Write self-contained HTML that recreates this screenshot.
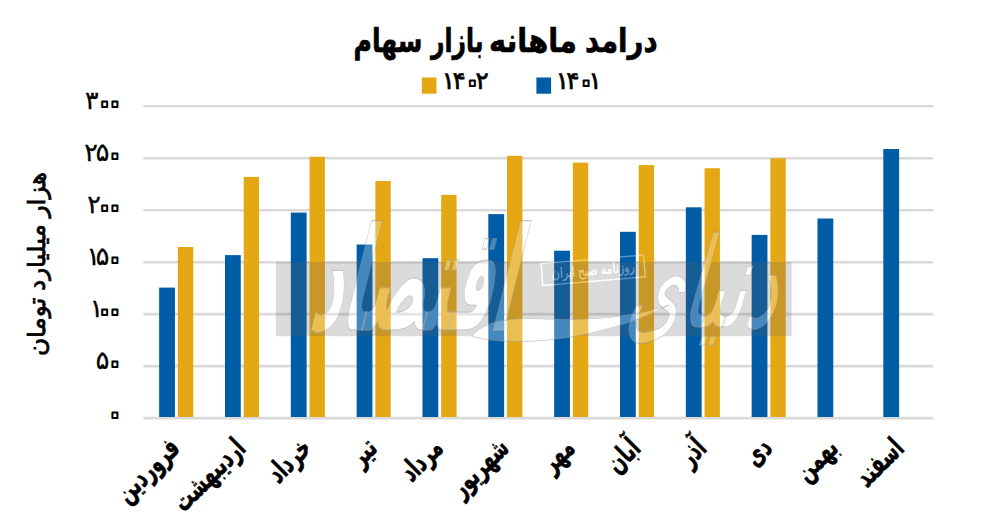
<!DOCTYPE html>
<html lang="fa"><head><meta charset="utf-8"><title>درامد ماهانه بازار سهام</title>
<style>
html,body{margin:0;padding:0;background:#fff;}
body{width:1000px;height:516px;overflow:hidden;}
svg{display:block;}
text{font-family:"Liberation Sans","DejaVu Sans",sans-serif;font-weight:bold;fill:#000;}
.g{stroke:#dadada;stroke-width:2.6;}
.d,.d text{font-weight:normal;stroke:#000;stroke-width:0.35;}
.d.l{stroke-width:0.7;}
#xlabs text{stroke:#000;stroke-width:0.35;}
#title text{stroke:#000;stroke-width:0.8;}
.d .z,.d.l .z{fill:none;stroke:#000;stroke-width:2;stroke-linejoin:round;}
.b{fill:#005ca5;}.y{fill:#e5a815;}
</style></head><body>
<svg width="1000" height="516" viewBox="0 0 1000 516">
<rect width="1000" height="516" fill="#fff"/>
<g class="g">
<line x1="143.25" y1="106.30" x2="933.25" y2="106.30"/>
<line x1="143.25" y1="158.27" x2="933.25" y2="158.27"/>
<line x1="143.25" y1="210.23" x2="933.25" y2="210.23"/>
<line x1="143.25" y1="262.20" x2="933.25" y2="262.20"/>
<line x1="143.25" y1="314.17" x2="933.25" y2="314.17"/>
<line x1="143.25" y1="366.13" x2="933.25" y2="366.13"/>
<line x1="143.25" y1="418.10" x2="933.25" y2="418.10"/>
</g>
<g>
<rect class="b" x="159.15" y="287.60" width="15.8" height="129.40"/>
<rect class="y" x="177.85" y="247.00" width="15.4" height="170.00"/>
<rect class="b" x="224.98" y="255.10" width="15.8" height="161.90"/>
<rect class="y" x="243.68" y="176.90" width="15.4" height="240.10"/>
<rect class="b" x="290.82" y="212.60" width="15.8" height="204.40"/>
<rect class="y" x="309.52" y="156.70" width="15.4" height="260.30"/>
<rect class="b" x="356.65" y="244.50" width="15.8" height="172.50"/>
<rect class="y" x="375.35" y="181.00" width="15.4" height="236.00"/>
<rect class="b" x="422.48" y="258.20" width="15.8" height="158.80"/>
<rect class="y" x="441.18" y="194.90" width="15.4" height="222.10"/>
<rect class="b" x="488.32" y="214.10" width="15.8" height="202.90"/>
<rect class="y" x="507.02" y="155.80" width="15.4" height="261.20"/>
<rect class="b" x="554.15" y="250.70" width="15.8" height="166.30"/>
<rect class="y" x="572.85" y="162.60" width="15.4" height="254.40"/>
<rect class="b" x="619.98" y="231.80" width="15.8" height="185.20"/>
<rect class="y" x="638.68" y="165.10" width="15.4" height="251.90"/>
<rect class="b" x="685.82" y="207.30" width="15.8" height="209.70"/>
<rect class="y" x="704.52" y="168.20" width="15.4" height="248.80"/>
<rect class="b" x="751.65" y="234.90" width="15.8" height="182.10"/>
<rect class="y" x="770.35" y="158.30" width="15.4" height="258.70"/>
<rect class="b" x="817.48" y="218.50" width="15.8" height="198.50"/>
<rect class="b" x="883.32" y="149.00" width="15.8" height="268.00"/>
</g>
<g id="wm">
<mask id="wmk" maskUnits="userSpaceOnUse" x="270" y="255" width="530" height="90">
<rect x="270" y="255" width="530" height="90" fill="#fff"/>
<g fill="#000" stroke="#000" stroke-width="0.9">
<text transform="translate(509 330) skewX(-14) scale(0.64 1.5)" text-anchor="end" font-size="96" style="font-weight:bold;fill:inherit">اقتصاد</text>
<text transform="translate(774 327) skewX(-16) scale(0.74 1.3)" text-anchor="end" font-size="96" style="font-weight:normal;fill:inherit">دنیای</text>
<path d="M472 336 C500 346 590 346 669 305 C640 316 590 321 545 319 C510 317 484 321 472 336 Z"/>
</g>
<g fill="#000" stroke="#000">
<g transform="translate(593.2 270.3) rotate(-4.8)">
<rect x="-51.4" y="-11" width="102.8" height="22" fill="none" stroke-width="1.3" style="stroke:inherit"/>
<text transform="translate(0 4.6) scale(0.88 1.12)" text-anchor="middle" font-size="12.5" style="font-weight:normal;fill:inherit;stroke:inherit;stroke-width:0.3">روزنامه صبح ایران</text>
</g>
</g>
</mask>
<rect x="275.8" y="262" width="515.8" height="74.2" fill="rgba(100,100,100,0.23)" mask="url(#wmk)"/>
<g fill="rgba(255,255,255,0.27)" stroke="rgba(150,150,150,0.5)" stroke-width="0.9">
<text transform="translate(509 330) skewX(-14) scale(0.64 1.5)" text-anchor="end" font-size="96" style="font-weight:bold;fill:inherit">اقتصاد</text>
<text transform="translate(774 327) skewX(-16) scale(0.74 1.3)" text-anchor="end" font-size="96" style="font-weight:normal;fill:inherit">دنیای</text>
<path d="M472 336 C500 346 590 346 669 305 C640 316 590 321 545 319 C510 317 484 321 472 336 Z"/>
</g>
<g fill="rgba(255,255,255,0.35)" stroke="rgba(255,255,255,0.35)">
<g transform="translate(593.2 270.3) rotate(-4.8)">
<rect x="-51.4" y="-11" width="102.8" height="22" fill="none" stroke-width="1.3" style="stroke:inherit"/>
<text transform="translate(0 4.6) scale(0.88 1.12)" text-anchor="middle" font-size="12.5" style="font-weight:normal;fill:inherit;stroke:inherit;stroke-width:0.3">روزنامه صبح ایران</text>
</g>
</g>
</g>
<g id="title" font-size="38">
<text transform="translate(585.00 52) scale(0.7268 0.875)">درامد</text>
<text transform="translate(489.00 52) scale(0.7593 0.875)">ماهانه</text>
<text transform="translate(431.00 52) scale(0.6161 0.875)">بازار</text>
<text transform="translate(353.50 52) scale(0.6601 0.875)">سهام</text>
</g>
<rect class="y" x="421.8" y="77.5" width="14.7" height="16.2"/>
<text id="leg2" class="d l" transform="translate(487.2 88.5)" text-anchor="start" font-size="24.6"><tspan x="-45.48" y="0">۱</tspan><tspan x="-34.82" y="0">۴</tspan><tspan class="z" x="-27.25" y="7.23" font-size="46">۰</tspan><tspan x="-11.64" y="0">۲</tspan></text>
<rect class="b" x="536.4" y="77.5" width="14.7" height="16.2"/>
<text id="leg1" class="d l" transform="translate(597.6 88.5)" text-anchor="start" font-size="24.6"><tspan x="-41.98" y="0">۱</tspan><tspan x="-31.31" y="0">۴</tspan><tspan class="z" x="-23.75" y="7.23" font-size="46">۰</tspan><tspan x="-9.23" y="0">۱</tspan></text>
<g id="ylabs" class="d" font-size="25.2" text-anchor="start">
<text transform="translate(119.5 108.70)"><tspan x="-34.43" y="0">۳</tspan><tspan class="z" x="-27.20" y="8.23" font-size="46">۰</tspan><tspan class="z" x="-16.90" y="8.23" font-size="46">۰</tspan></text>
<text transform="translate(119.5 160.67)"><tspan x="-35.35" y="0">۲</tspan><tspan x="-23.77" y="0">۵</tspan><tspan class="z" x="-16.90" y="8.23" font-size="46">۰</tspan></text>
<text transform="translate(119.5 212.63)"><tspan x="-32.25" y="0">۲</tspan><tspan class="z" x="-27.20" y="8.23" font-size="46">۰</tspan><tspan class="z" x="-16.90" y="8.23" font-size="46">۰</tspan></text>
<text transform="translate(119.5 264.60)"><tspan x="-32.97" y="0">۱</tspan><tspan x="-23.77" y="0">۵</tspan><tspan class="z" x="-16.90" y="8.23" font-size="46">۰</tspan></text>
<text transform="translate(119.5 316.57)"><tspan x="-29.87" y="0">۱</tspan><tspan class="z" x="-27.20" y="8.23" font-size="46">۰</tspan><tspan class="z" x="-16.90" y="8.23" font-size="46">۰</tspan></text>
<text transform="translate(119.5 368.53)"><tspan x="-23.77" y="0">۵</tspan><tspan class="z" x="-16.90" y="8.23" font-size="46">۰</tspan></text>
<text transform="translate(119.5 419.60)"><tspan class="z" x="-16.90" y="8.23" font-size="46">۰</tspan></text>
</g>
<text id="ytitle" transform="translate(44.6 264) rotate(-90) scale(0.913 0.9)" text-anchor="middle" font-size="27" style="font-weight:normal;stroke:#000;stroke-width:0.85">هزار میلیارد تومان</text>
<g id="xlabs" font-size="19" text-anchor="end">
<text transform="translate(181.37 449.80) rotate(-45) scale(0.95 1.5)">فروردین</text>
<text transform="translate(247.20 449.80) rotate(-45) scale(0.95 1.5)">اردیبهشت</text>
<text transform="translate(313.03 449.80) rotate(-45) scale(0.95 1.5)">خرداد</text>
<text transform="translate(378.87 449.80) rotate(-45) scale(0.95 1.5)">تیر</text>
<text transform="translate(444.70 449.80) rotate(-45) scale(0.95 1.5)">مرداد</text>
<text transform="translate(510.53 449.80) rotate(-45) scale(0.95 1.5)">شهریور</text>
<text transform="translate(576.37 449.80) rotate(-45) scale(0.95 1.5)">مهر</text>
<text transform="translate(642.20 449.80) rotate(-45) scale(0.95 1.5)">آبان</text>
<text transform="translate(708.03 449.80) rotate(-45) scale(0.95 1.5)">آذر</text>
<text transform="translate(773.87 449.80) rotate(-45) scale(0.95 1.5)">دی</text>
<text transform="translate(839.70 449.80) rotate(-45) scale(0.95 1.5)">بهمن</text>
<text transform="translate(905.53 449.80) rotate(-45) scale(0.95 1.5)">اسفند</text>
</g>
</svg>
</body></html>
